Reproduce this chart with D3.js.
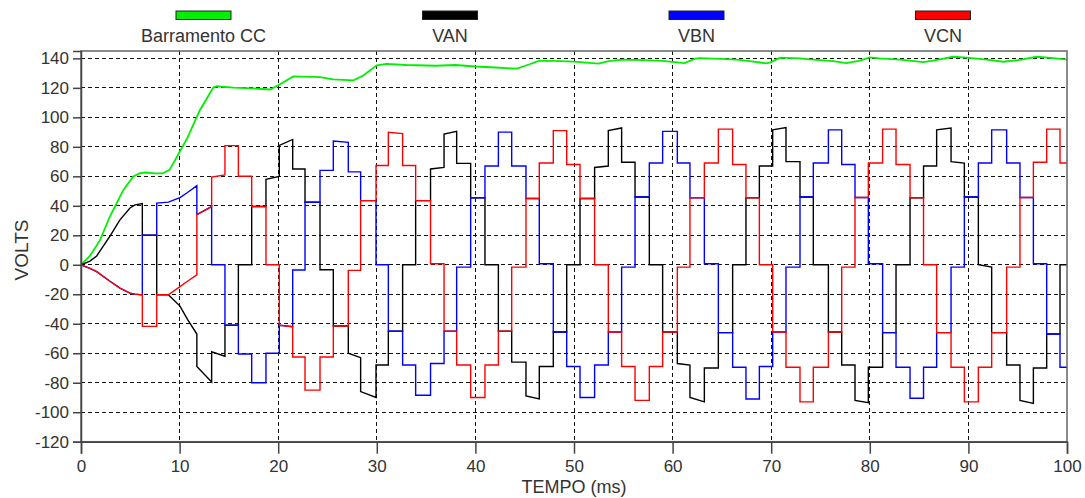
<!DOCTYPE html>
<html>
<head>
<meta charset="utf-8">
<script src="https://cdn.jsdelivr.net/npm/d3@7"></script>
<style>
  body { margin: 0; background: #ffffff; }
  svg text { font-family: "Liberation Sans", Arial, sans-serif; fill: #333; }
</style>
</head>
<body>
<svg id="chart" width="1085" height="498"></svg>
<script>
// Switching instants (ms); every phase voltage is defined per interval between them
const times = [0, 0.91, 1.59, 2.94, 3.95, 4.97, 5.48, 6.22, 7.68, 8.86, 10.04, 10.80, 11.75,
  13.25, 14.60, 15.96, 17.31, 18.76, 20.11, 21.47, 22.72, 24.24, 25.59, 27.11, 28.36, 29.92,
  31.17, 32.62, 33.94, 35.45, 36.82, 38.10, 39.52, 40.97, 42.33, 43.68, 45.13, 46.48, 47.90,
  49.26, 50.61, 52.09, 53.48, 54.83, 56.19, 57.64, 58.99, 60.48, 61.76, 63.22, 64.64, 66.09,
  67.44, 68.80, 70.15, 71.50, 72.92, 74.27, 75.80, 77.15, 78.50, 79.85, 81.30, 82.66, 84.08,
  85.45, 86.78, 88.24, 89.59, 91.01, 92.36, 93.88, 95.23, 96.59, 97.94, 99.29, 100];

// Phase voltages per interval: a number is a flat level, [a, b] ramps from a to b
const van = [[0, 2.5], [2.5, 6], [6, 19.5], [19.5, 30.5], [30.5, 38.5], [38.5, 40.6], [40.6, 41.5],
  20, -20.3, [-20.3, -28], [-28, -37], [-37, -47],
  [-69, -79.5], [-59, -62], -41, 0, 39.5, [58, 60], [81, 85], 65, 42.4, -3.4, -41.5, [-60, -63],
  [-86, -90], -68, -45, 0, 43.5, [65, 66], [88.7, 90.5], 68.8, 45.4, 0, -45, -66, [-89, -91],
  -69, -45.6, 0, 45, [66, 67], [91, 92.8], 69.5, 46, 0, -45.6, [-67, -68], [-90, -93],
  -70, -46, 0, 45.4, 67, [91.5, 93], 70, 46, 0, -45.6, -68, [-92, -93.5],
  -69.5, -46, 0, 45.4, 67, [91.5, 92.8], [70, 69], 46, [0, -1.5], -46, -68, [-92, -94],
  -70, -47, 0];

const vbn = [[0, -2.5], [-2.5, -4.7], [-4.7, -11.2], [-11.2, -15.8], [-15.8, -19.2], [-19.2, -19.9], [-19.9, -20.4],
  20, [41.8, 42.5], [42.5, 45.5], [45.5, 49], [49, 53.7],
  [34, 39.5], 0, -41, -60.5, -80, -60, [-41, -42], -3.5, 42.4, 64, [84, 83], 63,
  43.5, 0, -45, -68, -88.5, -67, -45, -1.6, 45.4, 67, 90, 67, 45,
  0.7, -45.6, -69, -90, -68, -45.6, -1.6, 46, 69, 90.5, 69, 45.4,
  0.7, -46, -69.5, -91, -69, -45.6, -1.6, 46, 69, 91.5, 68, 45.6,
  0.7, -46, -69.5, -90.5, -69.5, -46, -1.6, 46, 69, 91.5, 69, 45.6,
  0.7, -47, -69.5];

const vcn = [[0, -2.5], [-2.5, -4.7], [-4.7, -11.2], [-11.2, -15.8], [-15.8, -19.2], [-19.2, -19.9], [-19.9, -20.4],
  -41.8, -20.3, [-20.3, -14.8], [-14.8, -11.2], [-11.2, -6.8],
  [34, 39.5], [59.5, 61], 80.8, 60, 39.5, 0, [-41, -42], -62.5, -85, -62.5, -41.5, -3.8,
  43.5, 67.3, [89.8, 89], 67.3, 43.5, 0.7, -45, -68, -90, -68, -45, -1.6, 45,
  69, 91, 68, 45, 0, -45.6, -69, -92, -69, -45.6, -1.6, 45.4,
  69, 92, 68, 45.4, 0, -45.6, -69.5, -93, -69.5, -45.6, -1.6, 45.6,
  69, 92, 68, 45.4, 0, -46, -69.5, -93, -69.5, -46, -1.6, 45.6,
  69.5, 92, 69];

// DC bus voltage samples (ms, V)
const busTime = [0, 0.9, 1.93, 2.94, 4.3, 5.3, 6.0, 6.6, 7.5, 8.3, 9.0, 10.04, 10.72, 12.07, 13.42,
  13.76, 15.45, 17.48, 19.17, 20.01, 21.53, 24.24, 25.59, 27.62, 28.63, 29.99, 31.0, 33.0,
  36.0, 38.0, 40.0, 42.0, 44.2, 45.5, 46.5, 48.0, 50.0, 52.5, 53.5, 55.0, 57.0, 59.0, 61.2,
  62.3, 62.78, 65.48, 66.49, 67.84, 69.53, 70.0, 70.88,
  72.91, 73.92, 76.29, 77.64, 78.99, 80.0, 81.0, 83.06, 84.75, 85.42, 86.44, 88.46, 89.82,
  91.85, 93.54, 95.23, 96.92, 98.61, 100];
const busVolts = [0, 6, 16.7, 32.9, 50.8, 59.9, 62.2, 62.6, 62, 62, 64.5, 77, 85.1, 105, 120.2,
  121.1, 120.2, 119.6, 118.9, 121.8, 127.8, 127.3, 125.8, 125.1, 128.4, 135.3, 136.2, 135.5,
  135, 135.5, 134.5, 133.8, 133, 136, 138.5, 138.3, 137.8, 136.5, 138.2, 139.2, 138.8, 138.3, 136.8,
  139.8, 140.2, 139.5, 139.1, 138.2, 136.6, 137.5, 140.5,
  140, 139.3, 138.2, 136.8, 138.5, 140.7, 140, 139.1, 137.9, 137.5, 138.5, 141.1, 140.5,
  139.1, 137.7, 139, 141.1, 140.2, 139.1];

const xTicks = [0, 10, 20, 30, 40, 50, 60, 70, 80, 90, 100];
const yTicks = [-120, -100, -80, -60, -40, -20, 0, 20, 40, 60, 80, 100, 120, 140];
const legendNames = ["Barramento CC", "VAN", "VBN", "VCN"];
const seriesColors = ["#00f000", "#000000", "#0000ff", "#ff0000"];

const svg = d3.select("#chart");
const margin = { left: 81, right: 18, top: 51, bottom: 56.3 };
const W = 1085, H = 498;
const x = d3.scaleLinear().domain([0, 100]).range([margin.left, W - margin.right]);
const y = d3.scaleLinear().domain([-120, 145]).range([H - margin.bottom, margin.top]);

// Dashed grid
const grid = svg.append("g");
grid.selectAll("line.gx").data(xTicks.filter(d => d > 0 && d < 100)).join("line")
  .attr("x1", d => x(d)).attr("x2", d => x(d))
  .attr("y1", y.range()[1]).attr("y2", y.range()[0])
  .attr("stroke", "#111").attr("stroke-width", 1).attr("stroke-dasharray", "4,3")
  .attr("shape-rendering", "crispEdges");
grid.selectAll("line.gy").data(yTicks.filter(d => d > -120)).join("line")
  .attr("x1", x.range()[0]).attr("x2", x.range()[1])
  .attr("y1", d => y(d)).attr("y2", d => y(d))
  .attr("stroke", "#111").attr("stroke-width", 1).attr("stroke-dasharray", "4,3")
  .attr("shape-rendering", "crispEdges");

// Build polyline points from per-interval levels
function phasePoints(levels) {
  const pts = [];
  const n = Math.min(levels.length, times.length - 1);
  for (let i = 0; i < n; i++) {
    const lv = levels[i];
    const a = Array.isArray(lv) ? lv[0] : lv;
    const b = Array.isArray(lv) ? lv[1] : lv;
    pts.push([times[i], a], [times[i + 1], b]);
  }
  return pts;
}
const line = d3.line().x(d => x(d[0])).y(d => y(d[1]));

const plot = svg.append("g");
plot.append("path").datum(busTime.map((t, i) => [t, busVolts[i]]))
  .attr("d", line).attr("fill", "none").attr("stroke", seriesColors[0]).attr("stroke-width", 1.8);
[van, vbn, vcn].forEach((s, k) => {
  plot.append("path").datum(phasePoints(s))
    .attr("d", line).attr("fill", "none").attr("stroke", seriesColors[k + 1])
    .attr("stroke-width", 1.4).attr("stroke-linejoin", "miter");
});

// Frame
svg.append("rect")
  .attr("x", x.range()[0]).attr("y", y.range()[1])
  .attr("width", x.range()[1] - x.range()[0]).attr("height", y.range()[0] - y.range()[1])
  .attr("fill", "none").attr("stroke", "#666").attr("stroke-width", 1.5);

// Axes
const yAxis = svg.append("g").attr("transform", `translate(${x.range()[0]},0)`)
  .call(d3.axisLeft(y).tickValues(yTicks).tickSize(8).tickPadding(4).tickFormat(d => String(d)));
const xAxis = svg.append("g").attr("transform", `translate(0,${y.range()[0]})`)
  .call(d3.axisBottom(x).tickValues(xTicks).tickSize(12).tickPadding(6).tickFormat(d => String(d)));
[xAxis, yAxis].forEach(g => {
  g.select(".domain").attr("stroke", "#444").attr("stroke-width", 1.5);
  g.selectAll(".tick line").attr("stroke", "#444").attr("stroke-width", 1.5);
  g.selectAll(".tick text").attr("font-size", 17).attr("fill", "#333")
    .attr("font-family", "'Liberation Sans', Arial, sans-serif");
});

// Axis titles
svg.append("text").attr("x", x(50)).attr("y", 493).attr("text-anchor", "middle")
  .attr("font-size", 18).text("TEMPO (ms)");
svg.append("text").attr("transform", "translate(28,250) rotate(-90)")
  .attr("text-anchor", "middle").attr("font-size", 19).text("VOLTS");

// Legend across the top
const legendX = d3.scalePoint().domain(legendNames).range([203.5, 943]);
const lg = svg.append("g").selectAll("g").data(legendNames).join("g")
  .attr("transform", d => `translate(${legendX(d)},0)`);
lg.append("rect").attr("x", -27.5).attr("y", 11).attr("width", 55).attr("height", 8.5)
  .attr("fill", (d, i) => seriesColors[i]).attr("stroke", "#222").attr("stroke-width", 1);
lg.append("text").attr("y", 42).attr("text-anchor", "middle").attr("font-size", 18).text(d => d);
</script>
</body>
</html>
